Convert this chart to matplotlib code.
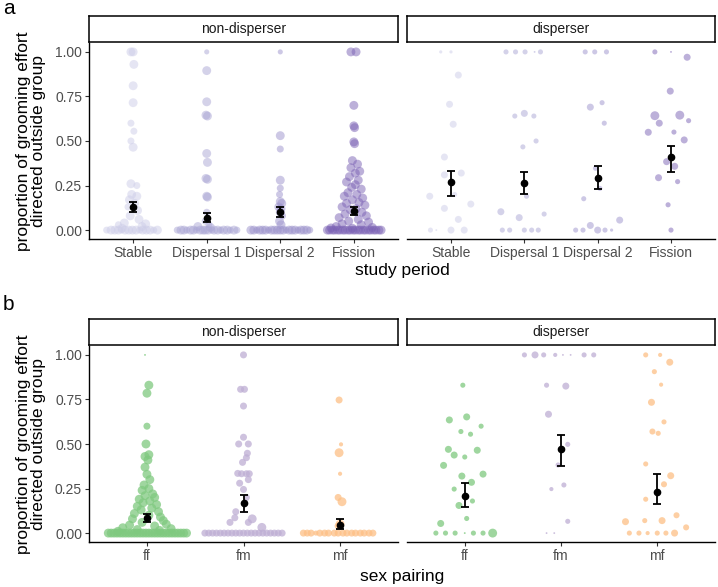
import matplotlib
matplotlib.use('Agg')
import matplotlib.pyplot as plt

plt.rcParams['font.family'] = ['Liberation Sans', 'DejaVu Sans']

# ---- data (value, jitter offset, point size code) ----
periods = ['Stable', 'Dispersal 1', 'Dispersal 2', 'Fission']
pairings = ['ff', 'fm', 'mf']
facets = ['non-disperser', 'disperser']

stable_nd = [(1.00, -0.03, 4), (1.00, 0.00, 4), (0.93, 0.01, 4), (0.81, 0.00, 4), (0.715, 0.00, 4),
             (0.60, -0.03, 3), (0.555, 0.01, 3), (0.50, -0.03, 3), (0.465, 0.00, 4),
             (0.26, -0.03, 4), (0.25, 0.05, 3), (0.20, -0.02, 4), (0.19, 0.05, 4), (0.17, -0.05, 4),
             (0.15, 0.02, 4), (0.13, -0.07, 3), (0.11, 0.06, 4), (0.08, -0.04, 4), (0.06, 0.08, 4),
             (0.04, -0.12, 4), (0.035, 0.17, 4), (0.03, -0.20, 3), (0.02, 0.12, 4), (0.01, -0.15, 4),
             (0, -0.36, 3), (0, -0.30, 4), (0, -0.25, 4), (0, -0.20, 4), (0, -0.16, 3), (0, -0.11, 4),
             (0, -0.06, 4), (0, -0.01, 4), (0, 0.04, 4), (0, 0.09, 3), (0, 0.13, 4), (0, 0.18, 4),
             (0, 0.23, 4), (0, 0.28, 3), (0, 0.33, 4)]
disp1_nd = [(1.00, 0.00, 2), (0.895, 0.00, 4), (0.72, 0.00, 4), (0.645, -0.01, 4), (0.64, 0.01, 4),
            (0.43, 0.00, 4), (0.38, 0.01, 4), (0.29, -0.01, 4), (0.285, 0.01, 4), (0.19, 0.00, 4),
            (0.185, 0.01, 4), (0.10, 0.00, 3), (0.05, -0.02, 3), (0.03, 0.03, 3), (0.02, -0.12, 4),
            (0.015, 0.05, 4),
            (0, -0.40, 3), (0, -0.35, 4), (0, -0.31, 4), (0, -0.27, 3), (0, -0.22, 4), (0, -0.18, 4),
            (0, -0.14, 3), (0, -0.09, 4), (0, -0.05, 4), (0, -0.02, 4), (0, 0.02, 4), (0, 0.07, 3),
            (0, 0.10, 4), (0, 0.15, 4), (0, 0.19, 3), (0, 0.23, 4), (0, 0.28, 4), (0, 0.32, 3),
            (0, 0.37, 4), (0, 0.41, 3)]
disp2_nd = [(1.00, 0.00, 2), (0.53, 0.00, 4), (0.455, 0.00, 3), (0.28, 0.00, 4), (0.235, 0.00, 3),
            (0.20, -0.01, 3), (0.16, 0.00, 4), (0.15, 0.02, 4), (0.13, -0.02, 4), (0.12, 0.01, 4),
            (0.10, 0.00, 4), (0.08, 0.03, 3), (0.05, -0.01, 4), (0.03, 0.01, 4),
            (0, -0.40, 4), (0, -0.36, 4), (0, -0.32, 3), (0, -0.28, 4), (0, -0.24, 4), (0, -0.20, 4),
            (0, -0.16, 3), (0, -0.12, 4), (0, -0.08, 4), (0, -0.04, 4), (0, 0.00, 4), (0, 0.04, 4),
            (0, 0.08, 3), (0, 0.12, 4), (0, 0.16, 4), (0, 0.20, 4), (0, 0.24, 3), (0, 0.28, 4),
            (0, 0.32, 4), (0, 0.36, 4), (0, 0.40, 3)]
fission_nd = [(1.00, -0.04, 4), (1.00, 0.03, 4), (0.70, 0.00, 4), (0.585, 0.00, 4), (0.575, 0.01, 4),
              (0.495, 0.00, 4), (0.485, 0.01, 4), (0.39, -0.02, 4), (0.37, 0.05, 4), (0.35, -0.04, 4),
              (0.33, 0.08, 4), (0.32, 0.02, 4), (0.30, -0.06, 4), (0.28, 0.06, 4), (0.27, -0.10, 4),
              (0.255, 0.02, 4), (0.24, -0.03, 4), (0.23, 0.10, 4), (0.21, -0.08, 4), (0.20, 0.04, 4),
              (0.19, -0.13, 4), (0.18, 0.12, 4), (0.17, -0.02, 4), (0.155, 0.07, 4), (0.15, -0.10, 4),
              (0.14, 0.15, 4), (0.13, -0.16, 4), (0.12, 0.03, 4), (0.115, -0.05, 4), (0.10, 0.11, 4),
              (0.09, -0.12, 4), (0.08, 0.17, 4), (0.07, -0.20, 4), (0.06, 0.06, 4), (0.05, -0.07, 4),
              (0.045, 0.20, 4), (0.035, -0.16, 4), (0.03, 0.10, 4), (0.02, -0.24, 4), (0.015, 0.25, 4),
              (0.01, -0.02, 4), (0.012, -0.31, 4),
              (0, -0.36, 4), (0, -0.33, 4), (0, -0.29, 4), (0, -0.26, 4), (0, -0.22, 4), (0, -0.19, 4),
              (0, -0.15, 4), (0, -0.12, 4), (0, -0.08, 4), (0, -0.05, 4), (0, -0.01, 4), (0, 0.02, 4),
              (0, 0.06, 4), (0, 0.09, 4), (0, 0.13, 4), (0, 0.16, 4), (0, 0.20, 4), (0, 0.23, 4),
              (0, 0.27, 4), (0, 0.30, 4), (0, 0.34, 4), (0, 0.37, 4)]

stable_d = [(1.00, -0.14, 1), (1.00, 0.00, 1), (0.87, 0.10, 3), (0.706, -0.02, 3), (0.594, 0.03, 3),
            (0.41, -0.09, 3), (0.31, -0.09, 3), (0.32, 0.14, 3), (0.19, -0.29, 3), (0.20, 0.05, 2),
            (0.146, 0.27, 3), (0.122, -0.09, 3), (0.06, 0.10, 3),
            (0, -0.28, 2), (0, -0.20, 0.3), (0, 0.00, 3), (0, 0.18, 3)]
disp1_d = [(1.00, -0.25, 2), (1.00, -0.12, 2), (1.00, 0.01, 2), (1.00, 0.14, 0.3), (1.00, 0.22, 2),
           (0.655, 0.00, 3), (0.64, -0.13, 2), (0.64, 0.13, 2), (0.50, 0.16, 2), (0.467, -0.02, 2),
           (0.19, 0.03, 2), (0.103, -0.32, 3), (0.09, 0.27, 2), (0.07, -0.07, 3),
           (0, -0.30, 2), (0, -0.20, 2), (0, 0.00, 2), (0, 0.10, 2), (0, 0.19, 2)]
disp2_d = [(1.00, -0.17, 2), (1.00, -0.04, 2), (1.00, 0.12, 2), (0.715, 0.06, 2), (0.69, -0.10, 3),
           (0.60, 0.09, 2), (0.347, -0.03, 2), (0.234, 0.03, 2), (0.176, -0.19, 2), (0.056, 0.30, 3),
           (0.026, -0.10, 3),
           (0, -0.30, 2), (0, -0.20, 2), (0, 0.00, 3), (0, 0.10, 2), (0, 0.19, 1)]
fission_d = [(1.00, -0.22, 2), (1.00, 0.00, 0.3), (0.97, 0.22, 3), (0.78, -0.01, 3), (0.642, -0.22, 4),
             (0.645, 0.12, 4), (0.614, 0.24, 2), (0.60, -0.16, 3), (0.549, -0.31, 3), (0.55, 0.04, 2),
             (0.506, 0.18, 3), (0.384, -0.06, 3), (0.358, 0.05, 3), (0.294, -0.17, 3), (0.272, 0.09, 2),
             (0.142, -0.04, 2), (0, 0.00, 2)]

ff_nd = [(1.00, -0.02, 0.3), (0.83, 0.02, 4), (0.785, 0.00, 4), (0.60, 0.00, 3), (0.50, -0.01, 4),
         (0.44, 0.02, 4), (0.43, -0.02, 4), (0.41, 0.01, 4), (0.37, -0.02, 4), (0.33, 0.00, 4),
         (0.30, 0.03, 4), (0.27, -0.03, 4), (0.25, 0.02, 4), (0.24, -0.05, 4), (0.22, 0.06, 4),
         (0.21, -0.02, 4), (0.20, 0.08, 4), (0.19, -0.08, 4), (0.18, 0.03, 4), (0.17, -0.04, 4),
         (0.16, 0.10, 4), (0.15, -0.10, 4), (0.14, 0.05, 4), (0.13, -0.06, 4), (0.12, 0.12, 4),
         (0.11, -0.13, 4), (0.10, 0.02, 4), (0.09, 0.14, 4), (0.08, -0.15, 4), (0.07, 0.17, 4),
         (0.06, -0.05, 4), (0.05, 0.20, 4), (0.045, -0.18, 4), (0.04, 0.08, 4), (0.03, -0.25, 4),
         (0.025, 0.25, 4), (0.02, -0.10, 4), (0.015, 0.13, 4), (0.01, -0.30, 4),
         (0, -0.40, 4), (0, -0.37, 4), (0, -0.34, 4), (0, -0.31, 4), (0, -0.28, 4), (0, -0.25, 4),
         (0, -0.22, 4), (0, -0.19, 4), (0, -0.16, 4), (0, -0.13, 4), (0, -0.10, 4), (0, -0.07, 4),
         (0, -0.04, 4), (0, -0.01, 4), (0, 0.02, 4), (0, 0.05, 4), (0, 0.08, 4), (0, 0.11, 4),
         (0, 0.14, 4), (0, 0.17, 4), (0, 0.20, 4), (0, 0.23, 4), (0, 0.26, 4), (0, 0.29, 4),
         (0, 0.32, 4), (0, 0.35, 4), (0, 0.38, 4), (0, 0.41, 4)]
fm_nd = [(1.00, 0.00, 3), (0.807, -0.03, 3), (0.807, 0.01, 3), (0.713, 0.00, 3), (0.538, 0.00, 3),
         (0.50, -0.05, 3), (0.50, 0.05, 3), (0.448, 0.04, 3), (0.423, 0.03, 3), (0.397, -0.01, 3),
         (0.335, -0.06, 3), (0.333, -0.02, 3), (0.333, 0.03, 3), (0.333, 0.06, 3), (0.30, 0.05, 3),
         (0.28, -0.04, 3), (0.245, 0.00, 3), (0.20, 0.03, 3), (0.12, -0.08, 3), (0.086, -0.09, 3),
         (0.08, 0.09, 4), (0.06, -0.14, 3), (0.06, 0.05, 3), (0.032, 0.19, 4),
         (0, -0.40, 3), (0, -0.36, 3), (0, -0.32, 3), (0, -0.28, 3), (0, -0.24, 3), (0, -0.20, 3),
         (0, -0.16, 3), (0, -0.12, 3), (0, -0.08, 3), (0, -0.04, 3), (0, 0.00, 3), (0, 0.04, 3),
         (0, 0.08, 3), (0, 0.12, 3), (0, 0.16, 3), (0, 0.20, 3), (0, 0.24, 3), (0, 0.28, 3),
         (0, 0.32, 3), (0, 0.36, 3), (0, 0.40, 3)]
mf_nd = [(0.747, -0.01, 3), (0.498, 0.01, 1.5), (0.451, -0.01, 4), (0.333, 0.00, 1.5), (0.20, -0.02, 3),
         (0.176, 0.02, 4), (0.05, 0.00, 4), (0.04, -0.02, 3),
         (0, -0.38, 3), (0, -0.34, 3), (0, -0.30, 3), (0, -0.25, 2), (0, -0.21, 3), (0, -0.16, 3),
         (0, -0.12, 3), (0, -0.06, 3), (0, -0.02, 3), (0, 0.03, 3), (0, 0.07, 3), (0, 0.12, 3),
         (0, 0.16, 3), (0, 0.21, 3), (0, 0.25, 3), (0, 0.30, 3), (0, 0.34, 3)]

ff_d = [(0.83, -0.02, 2), (0.652, 0.02, 3), (0.635, -0.16, 3), (0.60, 0.17, 2), (0.57, -0.04, 2),
        (0.555, 0.06, 2), (0.47, -0.17, 3), (0.465, 0.13, 3), (0.438, -0.11, 3), (0.427, 0.00, 2),
        (0.38, -0.22, 3), (0.331, 0.19, 3), (0.32, -0.03, 3), (0.285, 0.07, 3), (0.247, -0.11, 2),
        (0.18, 0.08, 2), (0.155, -0.06, 3), (0.082, 0.02, 2), (0.054, -0.25, 3),
        (0, -0.30, 2), (0, -0.20, 2), (0, -0.10, 2), (0, 0.00, 0.3), (0, 0.09, 2), (0, 0.19, 2),
        (0, 0.29, 4)]
fm_d = [(1.00, -0.38, 2), (1.00, -0.27, 3), (1.00, -0.18, 2), (1.00, -0.06, 1.5), (1.00, 0.02, 0.3),
        (1.00, 0.10, 0.3), (1.00, 0.24, 2), (1.00, 0.34, 2), (0.83, -0.15, 2), (0.825, 0.05, 3),
        (0.667, -0.13, 3), (0.498, 0.07, 2), (0.382, -0.03, 2), (0.27, 0.03, 2), (0.247, -0.10, 1.5),
        (0.066, 0.07, 2), (0, -0.15, 0.3), (0, -0.07, 0.3)]
mf_d = [(1.00, -0.12, 2), (1.00, 0.03, 1.5), (0.959, 0.13, 3), (0.906, -0.03, 2), (0.833, 0.04, 1.5),
        (0.734, -0.06, 3), (0.624, 0.07, 2), (0.57, -0.05, 2.5), (0.56, 0.01, 2), (0.388, -0.12, 2),
        (0.322, 0.14, 3), (0.274, 0.07, 2.5), (0.19, -0.12, 2), (0.064, -0.33, 3), (0.07, -0.13, 2),
        (0.07, 0.05, 3), (0.10, 0.20, 2.5), (0.032, 0.30, 2.5),
        (0, -0.29, 2), (0, -0.19, 2), (0, -0.10, 1.5), (0, 0.00, 2), (0, 0.09, 2), (0, 0.18, 3)]

# mean and standard error bounds
a_nd_mean = [0.128, 0.067, 0.100, 0.106]
a_nd_lo = [0.100, 0.047, 0.075, 0.084]
a_nd_hi = [0.157, 0.095, 0.128, 0.127]
a_d_mean = [0.268, 0.262, 0.294, 0.410]
a_d_lo = [0.193, 0.204, 0.230, 0.328]
a_d_hi = [0.330, 0.326, 0.360, 0.472]
b_nd_mean = [0.086, 0.167, 0.045]
b_nd_lo = [0.060, 0.118, 0.024]
b_nd_hi = [0.108, 0.212, 0.080]
b_d_mean = [0.208, 0.474, 0.232]
b_d_lo = [0.146, 0.378, 0.165]
b_d_hi = [0.279, 0.550, 0.331]

period_colors = ['#cdcde8', '#aaa6d5', '#9c93cc', '#7b62b5']
pairing_colors = ['#7fc97f', '#beaed4', '#fdc086']

W, H = 718, 587
fig = plt.figure(figsize=(W / 100, H / 100), dpi=100)


def box(x0, y0, x1, y1):
    return [x0 / W, 1 - y1 / H, (x1 - x0) / W, (y1 - y0) / H]


def panel(x0, x1, y0, y1, strip_y0, title, groups, cats, colors, alpha,
          mean, lo, hi, left_axis):
    ax = fig.add_axes(box(x0, y0, x1, y1))
    n = len(cats)
    for i, (pts, col) in enumerate(zip(groups, colors)):
        xs = [i + p[1] for p in pts]
        ys = [p[0] for p in pts]
        ss = [((1.3 + 1.9 * p[2]) * 0.72) ** 2 for p in pts]
        ax.scatter(xs, ys, s=ss, color=col, alpha=alpha, linewidths=0, zorder=2)
    xi = list(range(n))
    yerr = [[m - l for m, l in zip(mean, lo)], [h - m for m, h in zip(mean, hi)]]
    ax.errorbar(xi, mean, yerr=yerr, fmt='o', color='black', ms=4.5,
                elinewidth=1.3, capsize=2.7, capthick=1.3, zorder=3)
    ax.set_xlim(-0.6, n - 0.4)
    ax.set_ylim(-0.05, 1.05)
    ax.set_xticks(xi)
    ax.set_xticklabels(cats, fontsize=10, color='#4D4D4D')
    for s in ['top', 'right']:
        ax.spines[s].set_visible(False)
    ax.spines['bottom'].set_linewidth(1.0)
    ax.tick_params(axis='x', length=3, width=0.8, color='#333333', pad=2)
    if left_axis:
        ax.spines['left'].set_linewidth(1.0)
        ax.set_yticks([0, 0.25, 0.5, 0.75, 1.0])
        ax.set_yticklabels(['0.00', '0.25', '0.50', '0.75', '1.00'], fontsize=10, color='#4D4D4D')
        ax.tick_params(axis='y', length=3, width=0.8, color='#333333', pad=2)
    else:
        ax.spines['left'].set_visible(False)
        ax.set_yticks([])
    st = fig.add_axes(box(x0, strip_y0, x1, y0 - 1))
    st.set_xticks([])
    st.set_yticks([])
    for s in st.spines.values():
        s.set_linewidth(1.1)
    st.text(0.5, 0.5, title, ha='center', va='center', fontsize=10, color='#1A1A1A',
            transform=st.transAxes)
    return ax


# panel a
panel(89, 398, 43, 239, 16, facets[0], [stable_nd, disp1_nd, disp2_nd, fission_nd], periods,
      period_colors, 0.5, a_nd_mean, a_nd_lo, a_nd_hi, True)
panel(407, 715, 43, 239, 16, facets[1], [stable_d, disp1_d, disp2_d, fission_d], periods,
      period_colors, 0.5, a_d_mean, a_d_lo, a_d_hi, False)
# panel b
panel(89, 398, 346, 542, 319, facets[0], [ff_nd, fm_nd, mf_nd], pairings,
      pairing_colors, 0.75, b_nd_mean, b_nd_lo, b_nd_hi, True)
panel(407, 715, 346, 542, 319, facets[1], [ff_d, fm_d, mf_d], pairings,
      pairing_colors, 0.75, b_d_mean, b_d_lo, b_d_hi, False)

ylab = 'proportion of grooming effort\ndirected outside group'
fig.text(31 / W, 1 - 141 / H, ylab, rotation=90, ha='center', va='center', fontsize=12.5,
         linespacing=0.95)
fig.text(31 / W, 1 - 444 / H, ylab, rotation=90, ha='center', va='center', fontsize=12.5,
         linespacing=0.95)
fig.text(402 / W, 1 - 271 / H, 'study period', ha='center', va='center', fontsize=12.5)
fig.text(402 / W, 1 - 577 / H, 'sex pairing', ha='center', va='center', fontsize=12.5)
fig.text(3 / W, 1 - 9 / H, 'a', ha='left', va='center', fontsize=15)
fig.text(3 / W, 1 - 304 / H, 'b', ha='left', va='center', fontsize=15)

fig.savefig('out.png', dpi=100)
